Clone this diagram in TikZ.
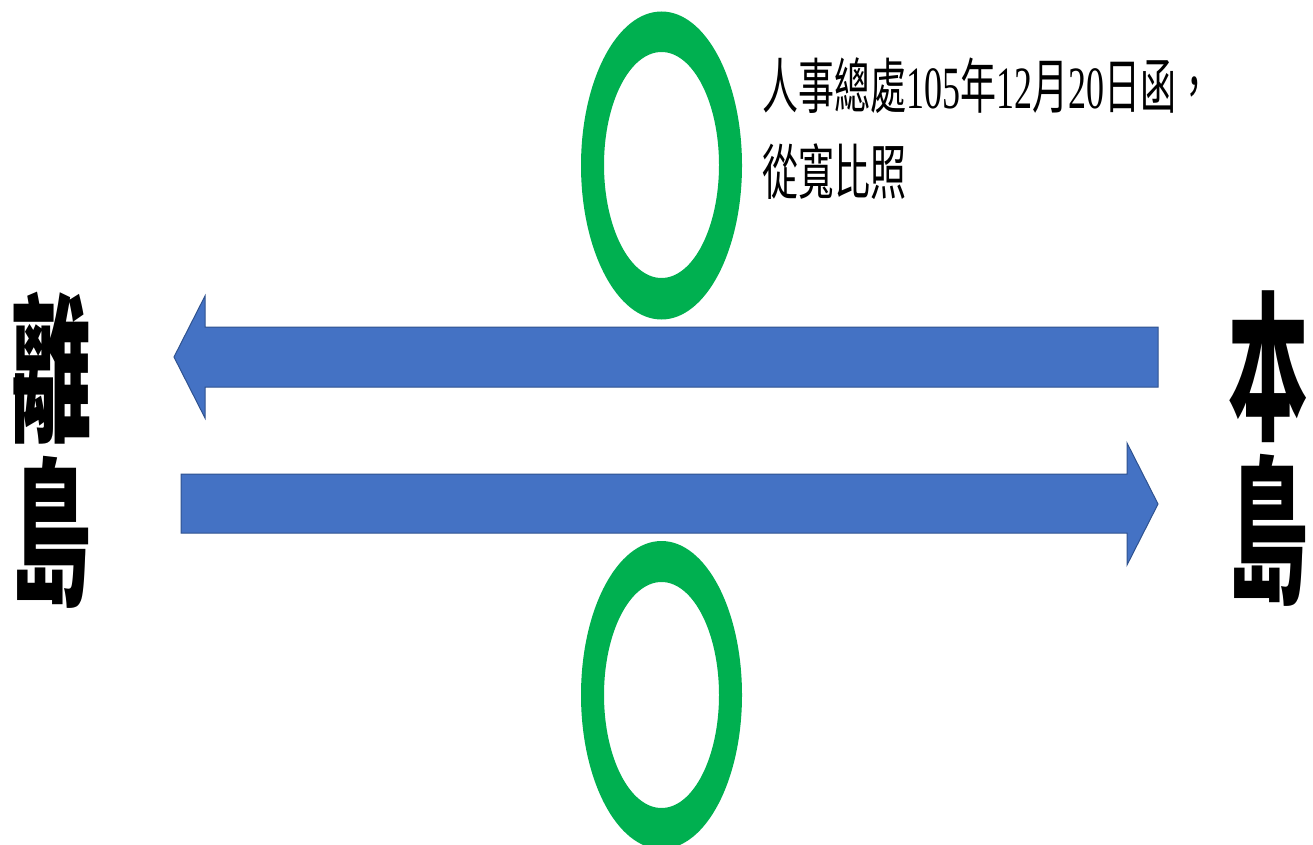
\documentclass[tikz,border=0pt]{standalone}
\usepackage{fontspec}
\setmainfont{Liberation Serif}
\newfontfamily\cjk{Noto Sans CJK TC}
\definecolor{ringgreen}{HTML}{00B050}
\definecolor{arrowblue}{HTML}{4472C4}
\definecolor{arrowedge}{HTML}{2F528F}
\tikzset{
  ring/.style={fill=ringgreen, even odd rule, draw=none},
  bigarrow/.style={fill=arrowblue, draw=arrowedge, line width=1pt, line join=miter},
  island/.style={align=center, yscale=2.0, font=\cjk\bfseries\fontsize{80}{82}\selectfont, inner sep=0pt},
  note/.style={anchor=north west, align=left, xscale=0.6, inner sep=0pt, font=\fontsize{60}{86}\selectfont}
}
\begin{document}
\begin{tikzpicture}[x=1pt,y=-1pt]
\useasboundingbox (0,0) rectangle (1313,845);
% rings
\path[ring] (661.5,165.5) ellipse [x radius=80.5, y radius=154]
            (661.5,165) ellipse [x radius=57.5, y radius=113];
\path[ring] (661.5,695) ellipse [x radius=80.5, y radius=154]
            (661.5,695) ellipse [x radius=57.5, y radius=113];
% arrows
\draw[bigarrow] (1158,327) -- (205,327) -- (205,296) -- (174,357) -- (205,418) -- (205,387) -- (1158,387) -- cycle;
\draw[bigarrow] (181,474) -- (1127,474) -- (1127,443) -- (1158,504) -- (1127,565) -- (1127,533) -- (181,533) -- cycle;
% labels
\node[island] (left) at (52,450) {離\\島};
\node[island] (right) at (1268,449) {本\\島};
\node[note] (note) at (762,58) {{\cjk 人事總處}105{\cjk 年}12{\cjk 月}20{\cjk 日函，}\\{\cjk 從寬比照}};
\end{tikzpicture}
\end{document}
